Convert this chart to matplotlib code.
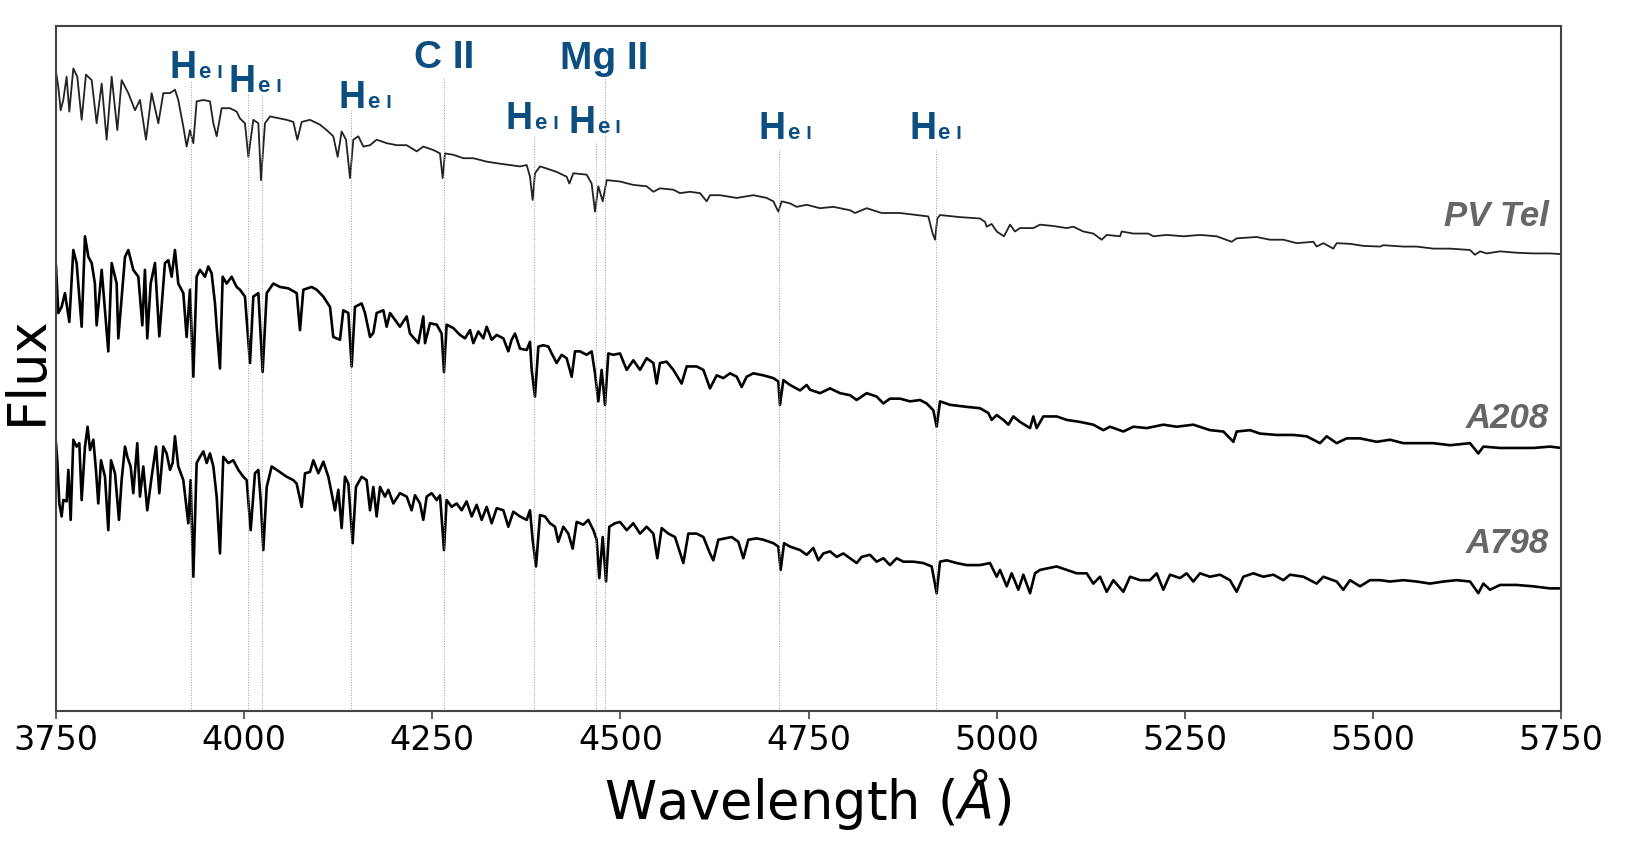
"""Optical spectra of PV Tel, A208 and A798 with He I / C II / Mg II line marks."""

import matplotlib

matplotlib.use("Agg")
import matplotlib.pyplot as plt
from matplotlib.offsetbox import AnnotationBbox, HPacker, TextArea

# ---- data (wavelength in Angstrom, flux in arbitrary offset units)
pv_wl = [3750.0, 3753.1, 3756.2, 3759.7, 3764.1, 3767.7, 3773.0, 3778.3, 3784.1, 3789.8,
         3797.4, 3804.0, 3810.7, 3817.3, 3824.0, 3831.5, 3837.2, 3846.1, 3855.0, 3861.6,
         3869.6, 3877.1, 3886.0, 3892.6, 3901.5, 3908.1, 3912.5, 3919.2, 3923.6, 3928.0,
         3932.5, 3936.9, 3945.8, 3954.6, 3959.1, 3963.5, 3970.1, 3981.2, 3990.1, 3994.5,
         4001.1, 4005.6, 4012.2, 4018.9, 4022.4, 4027.7, 4034.4, 4047.7, 4056.5, 4065.4,
         4070.7, 4076.5, 4087.5, 4100.8, 4109.7, 4118.5, 4124.3, 4129.6, 4135.4, 4140.7,
         4145.1, 4151.8, 4158.4, 4167.3, 4176.1, 4189.4, 4202.7, 4216.0, 4229.3, 4238.1,
         4251.4, 4260.3, 4263.8, 4266.9, 4278.0, 4291.3, 4304.6, 4322.3, 4340.0, 4353.3,
         4366.6, 4375.5, 4379.9, 4383.4, 4386.5, 4393.2, 4402.0, 4415.3, 4428.6, 4432.2,
         4437.5, 4455.2, 4461.8, 4466.3, 4470.7, 4476.5, 4481.8, 4499.5, 4517.2, 4534.9,
         4543.8, 4552.6, 4570.4, 4579.2, 4592.5, 4605.8, 4614.7, 4619.1, 4632.4, 4654.6,
         4676.7, 4694.4, 4703.3, 4709.9, 4714.4, 4725.5, 4734.3, 4747.6, 4765.3, 4783.0,
         4805.2, 4811.8, 4827.3, 4847.2, 4871.6, 4893.7, 4909.2, 4915.0, 4918.1, 4921.2,
         4924.8, 4951.3, 4977.9, 4984.6, 4986.8, 4993.4, 5000.1, 5009.8, 5017.8, 5024.4,
         5031.1, 5048.8, 5057.7, 5075.4, 5093.1, 5102.0, 5115.2, 5128.5, 5139.6, 5146.3,
         5164.0, 5166.2, 5181.7, 5201.6, 5208.3, 5226.0, 5248.1, 5270.3, 5292.4, 5312.3,
         5319.0, 5345.6, 5363.3, 5381.0, 5398.7, 5420.9, 5425.3, 5434.2, 5447.4, 5451.9,
         5469.6, 5487.3, 5509.5, 5513.9, 5540.5, 5558.2, 5580.4, 5602.5, 5629.1, 5635.7,
         5642.4, 5651.2, 5668.9, 5691.1, 5713.2, 5735.4, 5750.0]
pv_flux = [9.33, 9.11, 8.77, 8.92, 9.26, 8.75, 9.38, 9.26, 8.63, 9.29,
           9.21, 8.58, 9.16, 8.34, 9.26, 8.48, 9.21, 9.02, 8.77, 8.92,
           8.34, 9.02, 8.58, 9.02, 9.02, 9.07, 8.92, 8.53, 8.24, 8.48,
           8.29, 8.90, 8.92, 8.90, 8.58, 8.39, 8.80, 8.80, 8.75, 8.65,
           8.58, 8.09, 8.63, 8.58, 7.75, 8.58, 8.68, 8.65, 8.63, 8.60,
           8.34, 8.60, 8.63, 8.56, 8.48, 8.39, 8.09, 8.46, 8.34, 7.78,
           8.34, 8.39, 8.24, 8.26, 8.34, 8.29, 8.26, 8.26, 8.17, 8.24,
           8.19, 8.14, 7.78, 8.14, 8.12, 8.07, 8.07, 8.02, 7.99, 7.97,
           7.95, 7.97, 7.80, 7.46, 7.85, 7.95, 7.92, 7.87, 7.80, 7.70,
           7.85, 7.83, 7.70, 7.29, 7.66, 7.44, 7.75, 7.73, 7.68, 7.66,
           7.58, 7.63, 7.61, 7.56, 7.58, 7.56, 7.44, 7.53, 7.53, 7.49,
           7.53, 7.49, 7.44, 7.29, 7.44, 7.41, 7.36, 7.39, 7.34, 7.36,
           7.31, 7.27, 7.34, 7.27, 7.27, 7.24, 7.22, 6.97, 6.88, 7.19,
           7.24, 7.21, 7.19, 7.14, 7.07, 7.11, 7.00, 6.93, 7.10, 7.00,
           7.05, 7.05, 7.10, 7.08, 7.05, 7.07, 7.00, 6.97, 6.88, 6.95,
           6.93, 7.00, 6.97, 6.97, 6.93, 6.95, 6.93, 6.95, 6.93, 6.85,
           6.90, 6.92, 6.88, 6.88, 6.83, 6.85, 6.78, 6.83, 6.75, 6.83,
           6.82, 6.79, 6.78, 6.80, 6.78, 6.78, 6.75, 6.75, 6.73, 6.66,
           6.71, 6.68, 6.71, 6.69, 6.68, 6.68, 6.67]

a208_wl = [3750.0, 3753.1, 3757.5, 3761.9, 3767.7, 3773.0, 3777.4, 3784.1, 3788.5, 3793.0,
           3797.4, 3801.7, 3804.0, 3810.7, 3819.5, 3824.0, 3830.6, 3832.8, 3841.7, 3846.1,
           3852.7, 3859.4, 3864.7, 3868.2, 3871.3, 3875.8, 3881.5, 3887.3, 3894.8, 3899.3,
           3903.7, 3908.1, 3912.5, 3919.2, 3923.6, 3928.0, 3932.5, 3936.9, 3941.3, 3948.0,
           3952.4, 3956.8, 3961.3, 3963.5, 3967.9, 3971.5, 3976.8, 3983.4, 3990.1, 3994.5,
           4001.1, 4007.8, 4012.2, 4018.9, 4024.6, 4030.0, 4038.8, 4047.7, 4058.8, 4069.9,
           4074.2, 4078.7, 4089.7, 4096.4, 4105.2, 4114.1, 4118.5, 4127.4, 4131.8, 4138.5,
           4142.9, 4147.3, 4156.2, 4160.6, 4167.3, 4171.7, 4176.1, 4185.0, 4189.4, 4193.9,
           4207.1, 4216.0, 4220.4, 4231.5, 4238.1, 4240.4, 4247.0, 4255.9, 4262.5, 4265.6,
           4269.1, 4278.0, 4286.9, 4293.5, 4300.2, 4304.6, 4311.2, 4317.9, 4322.3, 4329.0,
           4335.6, 4344.5, 4351.1, 4355.5, 4360.0, 4366.6, 4375.5, 4379.9, 4382.1, 4386.5,
           4391.0, 4397.6, 4404.3, 4408.7, 4415.3, 4422.0, 4428.6, 4435.3, 4439.7, 4446.3,
           4455.2, 4461.8, 4466.3, 4470.7, 4475.1, 4479.6, 4484.0, 4490.6, 4499.5, 4508.4,
           4517.2, 4526.1, 4534.9, 4543.8, 4548.2, 4552.6, 4561.5, 4570.4, 4581.4, 4588.1,
           4601.4, 4610.3, 4619.1, 4628.0, 4636.8, 4645.7, 4654.6, 4661.2, 4667.8, 4676.7,
           4690.0, 4703.3, 4709.9, 4712.1, 4716.6, 4725.4, 4738.7, 4747.6, 4752.0, 4765.3,
           4778.6, 4791.9, 4805.2, 4814.0, 4827.3, 4840.6, 4849.5, 4858.3, 4871.6, 4884.9,
           4898.2, 4907.0, 4915.9, 4920.3, 4924.8, 4938.0, 4960.2, 4977.9, 4989.0, 4993.4,
           5000.1, 5008.9, 5015.6, 5022.2, 5031.1, 5044.4, 5048.8, 5053.2, 5062.1, 5079.8,
           5093.1, 5110.8, 5128.5, 5141.8, 5150.7, 5168.4, 5181.7, 5199.4, 5221.5, 5239.2,
           5261.4, 5283.5, 5301.3, 5314.6, 5319.0, 5336.7, 5350.0, 5372.1, 5394.3, 5412.0,
           5429.7, 5438.6, 5451.9, 5465.2, 5482.9, 5505.0, 5522.8, 5540.5, 5558.2, 5580.4,
           5602.5, 5629.1, 5640.1, 5646.8, 5668.9, 5691.1, 5713.2, 5735.4, 5750.0]
a208_flux = [6.49, 5.81, 5.90, 6.10, 5.68, 6.73, 6.54, 5.61, 6.93, 6.63,
             6.54, 6.24, 5.63, 6.44, 5.25, 6.54, 6.24, 5.44, 6.63, 6.73,
             6.44, 6.34, 5.63, 6.44, 5.44, 6.24, 6.54, 5.47, 6.54, 6.58,
             6.34, 6.73, 6.24, 6.10, 5.46, 6.15, 4.88, 6.34, 6.44, 6.34,
             6.49, 6.39, 5.95, 5.61, 5.00, 6.34, 6.24, 6.34, 6.19, 6.15,
             6.05, 5.08, 6.05, 6.10, 4.95, 6.10, 6.24, 6.19, 6.17, 6.10,
             5.56, 6.15, 6.19, 6.15, 6.05, 5.90, 5.46, 5.42, 5.85, 5.81,
             5.03, 5.90, 5.95, 5.81, 5.46, 5.52, 5.81, 5.85, 5.61, 5.81,
             5.61, 5.76, 5.51, 5.37, 5.76, 5.37, 5.66, 5.64, 5.51, 4.95,
             5.64, 5.59, 5.49, 5.44, 5.56, 5.37, 5.54, 5.44, 5.61, 5.42,
             5.49, 5.44, 5.25, 5.42, 5.51, 5.29, 5.27, 5.39, 4.98, 4.59,
             5.32, 5.34, 5.32, 5.22, 5.08, 5.20, 5.15, 4.88, 5.25, 5.25,
             5.20, 5.25, 4.93, 4.52, 4.98, 4.47, 5.22, 5.20, 5.22, 4.98,
             5.12, 4.98, 5.15, 5.08, 4.78, 5.08, 5.10, 4.98, 4.78, 5.03,
             5.03, 4.98, 4.71, 4.90, 4.86, 4.93, 4.88, 4.73, 4.88, 4.93,
             4.90, 4.86, 4.81, 4.47, 4.83, 4.76, 4.68, 4.76, 4.69, 4.64,
             4.71, 4.64, 4.61, 4.54, 4.64, 4.59, 4.49, 4.56, 4.56, 4.52,
             4.54, 4.49, 4.39, 4.15, 4.52, 4.47, 4.44, 4.42, 4.35, 4.25,
             4.32, 4.25, 4.18, 4.30, 4.22, 4.13, 4.30, 4.13, 4.30, 4.30,
             4.25, 4.22, 4.18, 4.10, 4.15, 4.08, 4.15, 4.13, 4.18, 4.15,
             4.18, 4.10, 4.08, 3.93, 4.08, 4.10, 4.05, 4.03, 4.03, 4.01,
             3.91, 4.01, 3.91, 3.98, 3.98, 3.93, 3.96, 3.91, 3.91, 3.91,
             3.88, 3.91, 3.76, 3.86, 3.84, 3.84, 3.84, 3.86, 3.84]

a798_wl = [3750.0, 3751.7, 3754.4, 3757.5, 3759.7, 3764.1, 3766.4, 3769.5, 3773.0, 3777.4,
           3781.0, 3784.1, 3788.5, 3792.0, 3795.2, 3799.6, 3803.1, 3806.2, 3809.8, 3815.1,
           3819.5, 3823.1, 3828.4, 3833.7, 3837.2, 3841.7, 3844.8, 3849.2, 3852.7, 3858.0,
           3861.6, 3866.0, 3871.3, 3877.1, 3882.9, 3887.3, 3892.6, 3897.0, 3901.5, 3905.0,
           3908.1, 3912.5, 3919.2, 3925.8, 3928.9, 3932.5, 3936.9, 3941.3, 3945.8, 3950.2,
           3954.6, 3959.1, 3963.5, 3967.9, 3972.3, 3979.0, 3985.6, 3992.3, 3998.9, 4003.4,
           4008.7, 4014.4, 4018.9, 4022.0, 4025.5, 4030.0, 4036.6, 4043.2, 4049.9, 4056.5,
           4065.4, 4069.8, 4076.5, 4080.9, 4087.5, 4092.0, 4098.6, 4105.3, 4111.9, 4116.3,
           4120.7, 4125.2, 4129.6, 4134.0, 4138.5, 4144.2, 4148.6, 4156.2, 4162.8, 4167.3,
           4171.7, 4176.1, 4180.6, 4187.2, 4191.6, 4198.3, 4207.1, 4216.0, 4222.6, 4227.1,
           4233.7, 4238.1, 4242.6, 4249.2, 4255.9, 4260.3, 4265.6, 4269.1, 4275.8, 4282.4,
           4289.1, 4295.7, 4302.4, 4309.0, 4315.7, 4322.3, 4329.0, 4335.6, 4344.5, 4351.1,
           4357.7, 4366.6, 4375.5, 4379.9, 4383.4, 4387.9, 4393.2, 4399.8, 4406.5, 4413.1,
           4417.5, 4424.2, 4430.8, 4436.6, 4441.9, 4450.8, 4457.4, 4464.1, 4468.5, 4472.0,
           4476.5, 4480.9, 4485.3, 4492.8, 4499.5, 4508.4, 4517.2, 4526.1, 4534.9, 4543.8,
           4549.1, 4554.9, 4563.7, 4572.6, 4583.7, 4590.3, 4601.4, 4610.3, 4619.1, 4623.5,
           4630.2, 4639.0, 4647.9, 4656.8, 4663.4, 4670.0, 4681.1, 4690.0, 4703.3, 4709.9,
           4713.0, 4717.5, 4725.4, 4738.7, 4747.6, 4756.4, 4763.1, 4769.7, 4778.6, 4787.4,
           4796.3, 4805.2, 4814.0, 4820.7, 4831.7, 4840.6, 4849.5, 4858.3, 4867.2, 4876.0,
           4889.3, 4902.6, 4913.7, 4920.3, 4924.8, 4933.6, 4946.9, 4960.2, 4977.9, 4991.2,
           5000.1, 5004.5, 5013.4, 5020.0, 5028.9, 5035.5, 5044.4, 5051.0, 5057.7, 5066.5,
           5079.8, 5093.1, 5106.4, 5119.7, 5128.5, 5137.4, 5146.3, 5155.1, 5168.4, 5177.3,
           5190.6, 5203.8, 5212.7, 5221.5, 5230.4, 5243.7, 5252.5, 5261.4, 5270.3, 5283.5,
           5296.8, 5310.1, 5319.0, 5327.8, 5341.1, 5354.4, 5367.7, 5381.0, 5389.9, 5407.6,
           5425.3, 5434.2, 5451.9, 5460.7, 5469.6, 5482.9, 5496.2, 5509.5, 5522.8, 5540.5,
           5558.2, 5575.9, 5593.6, 5611.4, 5629.1, 5640.1, 5646.8, 5655.7, 5668.9, 5691.1,
           5713.2, 5735.4, 5750.0]
a798_flux = [3.91, 3.66, 3.03, 2.84, 3.08, 3.06, 3.52, 2.79, 3.96, 3.86,
             3.91, 3.08, 3.86, 4.15, 3.81, 3.96, 3.52, 3.03, 3.66, 3.42,
             2.64, 3.66, 3.47, 2.79, 3.37, 3.86, 3.71, 3.57, 3.18, 3.91,
             3.13, 3.57, 2.93, 3.42, 3.86, 3.18, 3.86, 3.76, 3.52, 3.62,
             4.01, 3.57, 3.37, 2.74, 3.37, 1.96, 3.62, 3.71, 3.79, 3.62,
             3.76, 3.57, 3.13, 2.30, 3.71, 3.62, 3.66, 3.52, 3.42, 3.37,
             2.64, 3.47, 3.52, 3.08, 2.35, 3.27, 3.57, 3.52, 3.47, 3.42,
             3.37, 3.32, 2.98, 3.47, 3.49, 3.66, 3.47, 3.64, 3.42, 3.18,
             2.93, 3.23, 2.67, 3.42, 3.32, 2.45, 3.27, 3.42, 3.37, 2.93,
             3.27, 2.84, 3.27, 3.13, 3.23, 3.03, 3.18, 3.13, 2.93, 3.15,
             3.03, 2.79, 3.13, 3.18, 3.08, 3.15, 2.35, 3.08, 2.98, 3.03,
             2.93, 3.06, 2.84, 3.01, 2.79, 2.98, 2.74, 2.96, 2.93, 2.69,
             2.91, 2.84, 2.79, 2.93, 2.50, 2.11, 2.86, 2.84, 2.74, 2.69,
             2.47, 2.69, 2.59, 2.37, 2.76, 2.72, 2.79, 2.64, 2.50, 1.94,
             2.54, 1.89, 2.69, 2.74, 2.76, 2.64, 2.74, 2.59, 2.69, 2.59,
             2.23, 2.67, 2.59, 2.54, 2.16, 2.59, 2.59, 2.54, 2.30, 2.20,
             2.50, 2.52, 2.54, 2.47, 2.23, 2.50, 2.52, 2.50, 2.45, 2.40,
             2.06, 2.45, 2.40, 2.35, 2.28, 2.38, 2.20, 2.30, 2.33, 2.25,
             2.30, 2.23, 2.16, 2.25, 2.28, 2.18, 2.23, 2.13, 2.23, 2.18,
             2.18, 2.16, 2.11, 1.72, 2.18, 2.20, 2.16, 2.13, 2.13, 2.16,
             1.96, 2.06, 1.82, 2.01, 1.77, 1.99, 1.72, 2.01, 2.06, 2.08,
             2.11, 2.06, 2.01, 2.01, 1.86, 1.96, 1.74, 1.91, 1.74, 1.96,
             1.91, 1.91, 2.01, 1.77, 1.99, 1.94, 2.01, 1.89, 2.01, 1.96,
             1.99, 1.91, 1.74, 1.96, 2.01, 1.96, 1.99, 1.91, 1.99, 1.96,
             1.86, 1.96, 1.89, 1.77, 1.91, 1.82, 1.91, 1.91, 1.89, 1.91,
             1.89, 1.86, 1.89, 1.91, 1.89, 1.72, 1.86, 1.77, 1.84, 1.84,
             1.82, 1.79, 1.79]

# marked lines: wavelength and top of the dotted guide
line_wl = [3930, 4005, 4024, 4142, 4265, 4385, 4467, 4480, 4711, 4920]
line_top = [9.21, 9.02, 8.99, 8.77, 9.26, 8.39, 8.31, 9.24, 8.20, 8.20]

# line labels: species, centre wavelength, baseline height
label_species = ["He I", "He I", "He I", "C II", "He I", "He I", "Mg II", "He I", "He I"]
label_wl = [3936, 4015, 4161, 4266, 4383, 4466, 4478, 4719, 4919]
label_y = [9.23, 9.02, 8.79, 9.39, 8.48, 8.42, 9.37, 8.34, 8.34]

star_names = ["PV Tel", "A208", "A798"]
star_name_y = [7.08, 4.13, 2.31]

BLUE = "#0c4e80"
GREY = "#666666"
LABEL_FONT = "Liberation Sans"

fig = plt.figure(figsize=(16.26, 8.44), dpi=100)
ax = fig.add_axes([56 / 1626, 1 - 711 / 844, 1505 / 1626, 685 / 844])

ax.plot(pv_wl, pv_flux, color="#222222", lw=1.3)
ax.plot(a208_wl, a208_flux, color="black", lw=1.9)
ax.plot(a798_wl, a798_flux, color="black", lw=1.9)

ax.vlines(line_wl, 0, line_top, colors="0.6", linestyles=":", lw=0.7)

for name, wl, y in zip(label_species, label_wl, label_y):
    if name == "He I":
        # big H, small e and I sitting on the same baseline
        parts = [
            TextArea("H", textprops=dict(size=27, weight="bold", color=BLUE, family=LABEL_FONT)),
            TextArea("e", textprops=dict(size=16, weight="bold", color=BLUE, family=LABEL_FONT)),
            TextArea(" I", textprops=dict(size=14, weight="bold", color=BLUE, family=LABEL_FONT)),
        ]
        box = HPacker(children=parts, align="baseline", pad=0, sep=1)
        ab = AnnotationBbox(box, (wl, y - 0.1), xycoords="data", box_alignment=(0.5, 0),
                            frameon=False, pad=0, annotation_clip=False)
        ax.add_artist(ab)
    else:
        ax.text(wl, y, name, ha="center", va="baseline", color=BLUE, fontsize=28,
                fontweight="bold", family=LABEL_FONT)

for name, y in zip(star_names, star_name_y):
    ax.text(5734, y, name, ha="right", va="baseline", color=GREY, fontsize=25,
            fontweight="bold", fontstyle="italic", family=LABEL_FONT)

ax.set_xlim(3750, 5750)
ax.set_ylim(0, 10)
ax.set_xticks(range(3750, 5751, 250))
ax.set_yticks([])
ax.tick_params(axis="x", labelsize=24, length=6, width=1.2, color="#444444")
for sp in ax.spines.values():
    sp.set_color("#444444")
    sp.set_linewidth(1.5)

fig.text(808 / 1626, 1 - 800 / 844, r"Wavelength ($\mathit{Å}$)", ha="center", va="center",
         fontsize=38)
fig.text(27 / 1626, 1 - 370 / 844, "Flux", rotation=90, ha="center", va="center",
         fontsize=38)

fig.savefig("out.png", dpi=100)
